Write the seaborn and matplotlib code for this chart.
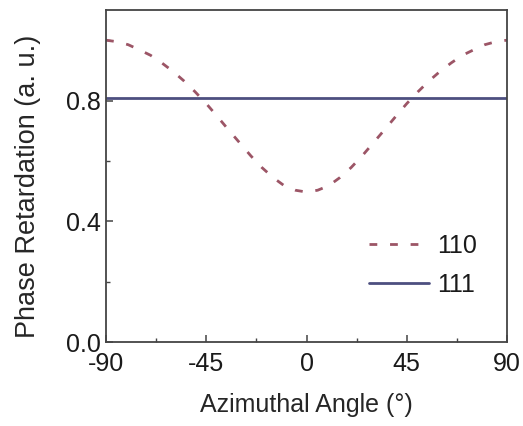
import matplotlib
matplotlib.use("Agg")
import matplotlib.pyplot as plt
from matplotlib.ticker import MultipleLocator
import pandas as pd
import seaborn as sns

# Azimuthal angle (degrees) and phase retardation for the (110) surface
angles_110 = [-90, -85, -80, -75, -70, -65, -60, -55, -50, -45, -40, -35, -30,
              -25, -20, -15, -10, -5, 0, 5, 10, 15, 20, 25, 30, 35, 40, 45,
              50, 55, 60, 65, 70, 75, 80, 85, 90]
retard_110 = [1.000, 0.995, 0.985, 0.968, 0.950, 0.925, 0.897, 0.865, 0.829,
              0.790, 0.747, 0.703, 0.660, 0.617, 0.578, 0.545, 0.518, 0.503,
              0.497, 0.503, 0.518, 0.545, 0.578, 0.617, 0.660, 0.703, 0.747,
              0.790, 0.829, 0.865, 0.897, 0.925, 0.950, 0.968, 0.985, 0.995,
              1.000]

# (111) surface: retardation independent of azimuth
angles_111 = [-90, 90]
retard_111 = [0.81, 0.81]

x_ticks = [-90, -45, 0, 45, 90]
y_ticks = [0.0, 0.4, 0.8]

df110 = pd.DataFrame({"angle": angles_110, "retardation": retard_110})
df111 = pd.DataFrame({"angle": angles_111, "retardation": retard_111})

sns.set_theme(style="ticks")
plt.rcParams["font.family"] = ["Liberation Sans", "DejaVu Sans"]
plt.rcParams["text.color"] = "#1a1a1a"

fig = plt.figure(figsize=(5.23, 4.26), dpi=100)
ax = fig.add_axes([0.2027, 0.197, 0.7667, 0.7795])

sns.lineplot(data=df110, x="angle", y="retardation", ax=ax,
             color="#9c5566", linewidth=2.0, label="110")
ax.lines[-1].set_dashes((2.8, 4.6))
sns.lineplot(data=df111, x="angle", y="retardation", ax=ax,
             color="#4d4f80", linewidth=2.0, label="111")

ax.set_xlim(-90, 90)
ax.set_ylim(0, 1.1)
ax.set_xticks(x_ticks)
ax.set_xticklabels([str(t) for t in x_ticks])
ax.set_yticks(y_ticks)
ax.set_yticklabels([f"{t:.1f}" for t in y_ticks])
ax.xaxis.set_minor_locator(MultipleLocator(22.5))
ax.yaxis.set_minor_locator(MultipleLocator(0.2))

ax.tick_params(axis="both", which="major", direction="in", length=5,
               width=1.1, color="#444444", labelsize=18, labelcolor="#1a1a1a")
ax.tick_params(axis="x", which="major", pad=7.5)
ax.tick_params(axis="y", which="major", pad=4)
ax.tick_params(axis="both", which="minor", direction="in", length=3,
               width=1.0, color="#444444")

for side in ["left", "right", "top", "bottom"]:
    ax.spines[side].set_visible(True)
    ax.spines[side].set_color("#444444")
    ax.spines[side].set_linewidth(1.3)

ax.set_xlabel("Azimuthal Angle (°)", fontsize=18, labelpad=12)
ax.set_ylabel("Phase Retardation (a. u.)", fontsize=19.5, labelpad=18, y=0.47)

leg = ax.legend(loc="upper left", bbox_to_anchor=(0.655, 0.325),
                frameon=False, fontsize=18, handlelength=2.4,
                handletextpad=0.35, borderpad=0, borderaxespad=0,
                labelspacing=0.6)

fig.savefig("out.png", dpi=100)
